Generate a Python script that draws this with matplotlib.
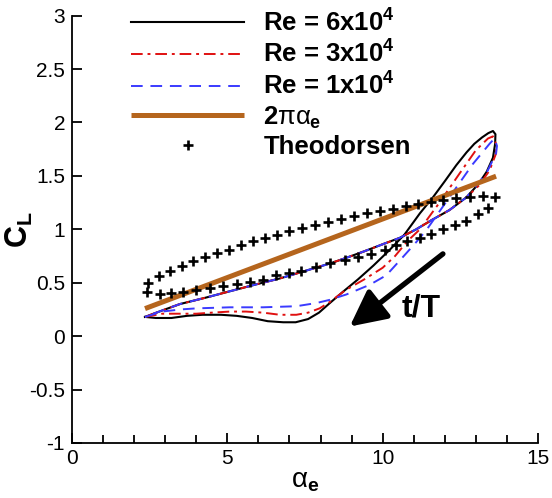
import matplotlib
matplotlib.use("Agg")
import matplotlib.pyplot as plt
import numpy as np

plt.rcParams['font.family'] = ['Liberation Sans', 'DejaVu Sans']
plt.rcParams['mathtext.fontset'] = 'custom'
plt.rcParams['mathtext.rm'] = 'Liberation Sans'
plt.rcParams['mathtext.it'] = 'Liberation Sans'
plt.rcParams['mathtext.bf'] = 'Liberation Sans:bold'

# ---------------- data ----------------
# Re = 6x10^4 loop (black, solid)
re6_x = [2.35, 2.7, 3.2, 3.7, 4.2, 4.8, 5.3, 5.8, 6.3, 6.8, 7.2, 7.6, 7.95, 8.3, 8.7,
         9.2, 9.7, 10.2, 10.7, 11.2, 11.62, 12.0, 12.37, 12.7, 12.95, 13.2, 13.4, 13.55,
         13.63, 13.62, 13.55, 13.35, 13.1, 12.7, 12.15, 11.6, 11.08, 10.55, 10.0, 9.37,
         8.8, 8.3, 7.5, 6.69, 6.0, 5.08, 4.3, 3.47, 2.9, 2.35]
re6_y = [0.18, 0.17, 0.17, 0.19, 0.20, 0.20, 0.19, 0.17, 0.14, 0.13, 0.13, 0.16, 0.22, 0.31, 0.41,
         0.53, 0.66, 0.80, 0.95, 1.15, 1.30, 1.45, 1.60, 1.72, 1.80, 1.86, 1.90, 1.92,
         1.89, 1.80, 1.67, 1.54, 1.43, 1.30, 1.18, 1.09, 1.00, 0.92, 0.86, 0.79,
         0.73, 0.68, 0.61, 0.54, 0.49, 0.42, 0.36, 0.30, 0.24, 0.18]

# Re = 3x10^4 loop (red, dash-dot)
re3_x = [2.35, 2.9, 3.5, 4.0, 4.5, 5.08, 5.6, 6.15, 6.69, 7.22, 7.6, 7.97, 8.3, 8.8,
         9.4, 10.0, 10.4, 10.8, 11.2, 11.83, 12.47, 13.0, 13.39, 13.55, 13.65, 13.65,
         13.44, 13.1, 12.7, 12.15, 11.6, 11.08, 10.55, 10.0, 9.37, 8.8, 8.3, 7.5, 6.69,
         6.0, 5.08, 4.3, 3.47, 2.9, 2.35]
re3_y = [0.18, 0.21, 0.21, 0.21, 0.22, 0.23, 0.23, 0.22, 0.20, 0.20, 0.22, 0.26, 0.32, 0.43,
         0.53, 0.64, 0.75, 0.89, 1.00, 1.25, 1.52, 1.74, 1.85, 1.87, 1.80, 1.71,
         1.55, 1.41, 1.30, 1.18, 1.09, 1.00, 0.92, 0.86, 0.79, 0.73, 0.68, 0.61, 0.54,
         0.49, 0.42, 0.36, 0.30, 0.24, 0.18]

# Re = 1x10^4 loop (blue, dashed)
re1_x = [2.35, 2.9, 3.5, 4.0, 5.08, 6.15, 7.22, 7.87, 8.3, 8.83, 9.58, 10.12, 10.65,
         11.08, 11.4, 12.15, 12.9, 13.44, 13.6, 13.68, 13.65, 13.33, 12.7, 12.15, 11.6,
         11.08, 10.55, 10.0, 9.37, 8.8, 8.3, 7.5, 6.69, 6.0, 5.08, 4.3, 3.47, 2.9, 2.35]
re1_y = [0.18, 0.23, 0.25, 0.26, 0.27, 0.27, 0.28, 0.31, 0.34, 0.39, 0.48, 0.57, 0.74,
         0.88, 0.99, 1.30, 1.61, 1.80, 1.85, 1.78, 1.71, 1.52, 1.30, 1.18, 1.09,
         1.00, 0.92, 0.86, 0.79, 0.73, 0.68, 0.61, 0.54, 0.49, 0.42, 0.36, 0.30, 0.24, 0.18]

# Quasi-steady line 2*pi*alpha_e (alpha in degrees)
qs_alpha = [2.35, 13.65]

# Theodorsen points
theo_x = [2.40, 2.83, 3.20, 3.58, 4.00, 4.44, 4.87, 5.30, 5.72, 6.15, 6.56, 6.98, 7.38,
          7.84, 8.30, 8.78, 9.20, 9.64, 10.06, 10.44, 10.78, 11.19, 11.57, 11.94, 12.32,
          12.69, 13.06, 13.39,
          13.60, 13.22, 12.82, 12.37, 11.95, 11.54, 11.14, 10.74, 10.33, 9.93, 9.50, 9.08,
          8.65, 8.24, 7.82, 7.41, 7.00, 6.60, 6.20, 5.83, 5.43, 5.05, 4.67, 4.28, 3.90,
          3.53, 3.15, 2.80, 2.45]
theo_y = [0.41, 0.39, 0.40, 0.41, 0.43, 0.45, 0.47, 0.49, 0.51, 0.53, 0.57, 0.59, 0.61,
          0.65, 0.68, 0.71, 0.74, 0.77, 0.81, 0.85, 0.89, 0.92, 0.96, 1.00, 1.04,
          1.08, 1.14, 1.20,
          1.30, 1.31, 1.30, 1.29, 1.27, 1.26, 1.24, 1.22, 1.19, 1.17, 1.15, 1.12,
          1.10, 1.07, 1.04, 1.01, 0.98, 0.95, 0.92, 0.89, 0.85, 0.81, 0.78, 0.74, 0.70,
          0.66, 0.61, 0.56, 0.50]

labels = [r'Re = 6x10$^\mathbf{4}$', r'Re = 3x10$^\mathbf{4}$', r'Re = 1x10$^\mathbf{4}$',
          r'$\mathbf{2}\pi\alpha_\mathbf{e}$', 'Theodorsen']

# ---------------- figure ----------------
fig = plt.figure(figsize=(5.52, 4.98), dpi=100)
ax = fig.add_axes([72/552, 1-443/498, (538-72)/552, (443-15.6)/498])

ax.plot(re6_x, re6_y, color='black', lw=1.5, label=labels[0])
ax.plot(re3_x, re3_y, color='#e01010', lw=1.4, dashes=(6, 2.5, 1.5, 2.5), label=labels[1])
ax.plot(re1_x, re1_y, color='#3a3aff', lw=1.4, dashes=(6, 4), label=labels[2])
qa = np.array(qs_alpha)
ax.plot(qa, 2*np.pi*np.deg2rad(qa), color='#b5651d', lw=3.6, solid_capstyle='butt', label=labels[3])
ax.plot(theo_x, theo_y, ls='none', marker='+', ms=7, mew=1.9, color='black', label=labels[4])

ax.set_xlim(0, 15)
ax.set_ylim(-1, 3)
ax.set_xticks([0, 5, 10, 15])
ax.set_xticks(np.arange(0, 16, 1), minor=True)
ax.set_yticks(np.arange(-1, 3.01, 0.5))
ax.set_yticklabels(['-1', '-0.5', '0', '0.5', '1', '1.5', '2', '2.5', '3'])
ax.spines['top'].set_visible(False)
ax.spines['right'].set_visible(False)
for s in ['left', 'bottom']:
    ax.spines[s].set_linewidth(1.3)
ax.tick_params(which='major', direction='in', length=7, width=1.3, labelsize=15, pad=5)
ax.tick_params(which='minor', direction='in', length=6, width=1.3)
ax.tick_params(axis='x', which='major', pad=4)

ax.set_xlabel(r'$\alpha_\mathbf{e}$', fontsize=20, labelpad=0)
ax.set_ylabel(r'$\mathbf{C}_\mathbf{L}$', fontsize=22)
ax.yaxis.set_label_coords(-0.08, 0.5)

ax.annotate('', xy=(8.94, 0.09), xytext=(11.94, 0.77),
            arrowprops=dict(arrowstyle='-|>,head_length=1.0,head_width=0.5', lw=3.8,
                            color='black', mutation_scale=22, shrinkA=0, shrinkB=0))
ax.text(11.25, 0.26, 't/T', fontsize=23, fontweight='bold', ha='center', va='center')

leg = ax.legend(loc='upper left', bbox_to_anchor=(131/552, 1-9/498), bbox_transform=fig.transFigure,
                frameon=False, prop={'weight': 'bold', 'size': 18.5},
                handlelength=4.4, handletextpad=0.75, labelspacing=0.18, borderpad=0,
                borderaxespad=0)

fig.savefig('out.png', dpi=100)
